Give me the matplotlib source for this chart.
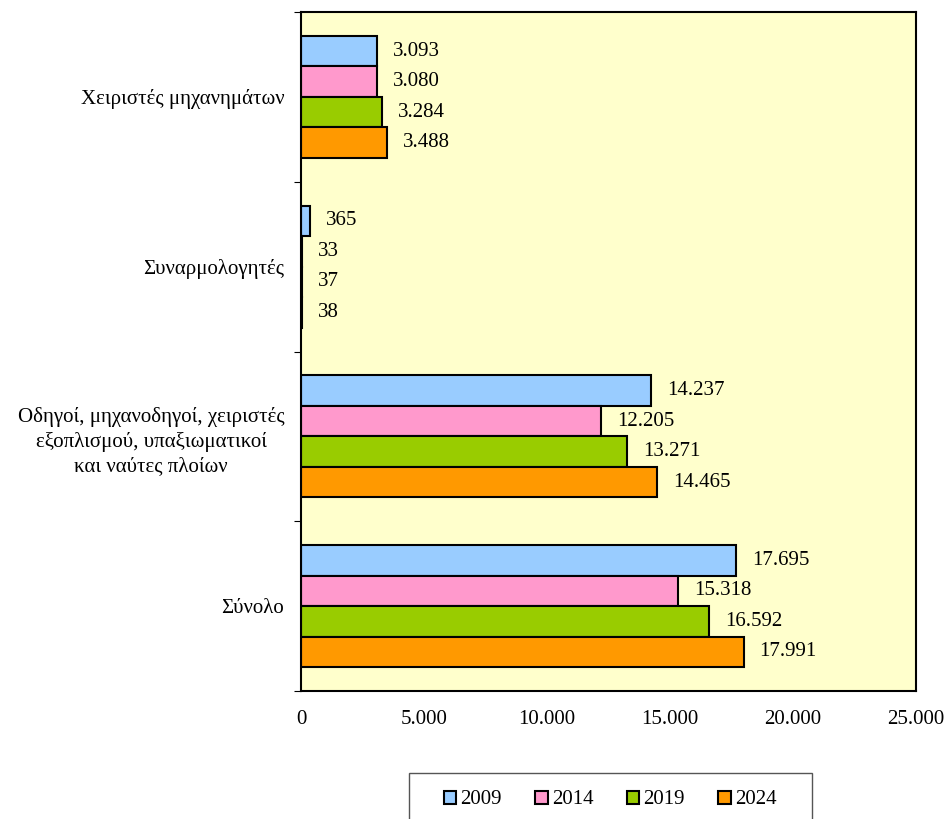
import matplotlib.pyplot as plt
import numpy as np

plt.rcParams["font.family"] = ["Liberation Serif", "DejaVu Serif"]

categories = [
    "Χειριστές μηχανημάτων",
    "Συναρμολογητές",
    "Οδηγοί, μηχανοδηγοί, χειριστές\nεξοπλισμού, υπαξιωματικοί\nκαι ναύτες πλοίων",
    "Σύνολο",
]
years = ["2009", "2014", "2019", "2024"]
values = {
    "2009": [3093, 365, 14237, 17695],
    "2014": [3080, 33, 12205, 15318],
    "2019": [3284, 37, 13271, 16592],
    "2024": [3488, 38, 14465, 17991],
}
colors = ["#99CCFF", "#FF99CC", "#99CC00", "#FF9900"]
FS = 15


def fmt(v):
    return f"{v:,}".replace(",", ".")


fig = plt.figure(figsize=(9.46, 8.19), dpi=100)
ax = fig.add_axes([301 / 946, 1 - 691 / 819, 615 / 946, 679 / 819])
ax.set_facecolor("#FFFFCC")

y = np.arange(len(categories))
h = 0.18
for i, yr in enumerate(years):
    pos = y + (i - 1.5) * h
    vals = values[yr]
    ax.barh(pos, vals, height=h, color=colors[i], edgecolor="black", linewidth=1.5)
    for p, v in zip(pos, vals):
        ax.text(v + 650, p, fmt(v), va="center", ha="left", fontsize=FS)

ax.set_xlim(0, 25000)
ax.set_ylim(len(categories) - 0.5, -0.5)
ax.set_xticks(np.arange(0, 25001, 5000))
ax.set_xticklabels([fmt(t) for t in range(0, 25001, 5000)], fontsize=FS)
ax.tick_params(axis="x", length=0, pad=14)
ax.set_yticks(np.arange(-0.5, len(categories), 1.0))
ax.set_yticklabels([])
ax.set_yticks(y, minor=True)
ax.set_yticklabels(categories, minor=True, fontsize=FS, ha="right",
                   multialignment="center", linespacing=1.35)
ax.tick_params(axis="y", which="major", length=5, direction="out")
ax.tick_params(axis="y", which="minor", length=0, pad=12)
for s in ax.spines.values():
    s.set_linewidth(1.5)

# legend box (bottom runs past the figure edge, as in the source)
fig.patches.append(plt.Rectangle((409 / 946, -0.05), 403 / 946, 0.05 + 46 / 819,
                                 transform=fig.transFigure, facecolor="white",
                                 edgecolor="#555555", linewidth=1.0))
handles = [plt.Rectangle((0, 0), 1, 1, facecolor=c, edgecolor="black", linewidth=1.5) for c in colors]
fig.legend(
    handles, years, loc="center", bbox_to_anchor=(610 / 946, 1 - 800 / 819),
    ncol=4, fontsize=FS, frameon=False,
    handlelength=0.6, handleheight=0.6, handletextpad=0.2, columnspacing=1.6,
)

fig.savefig("out.png", dpi=100)
